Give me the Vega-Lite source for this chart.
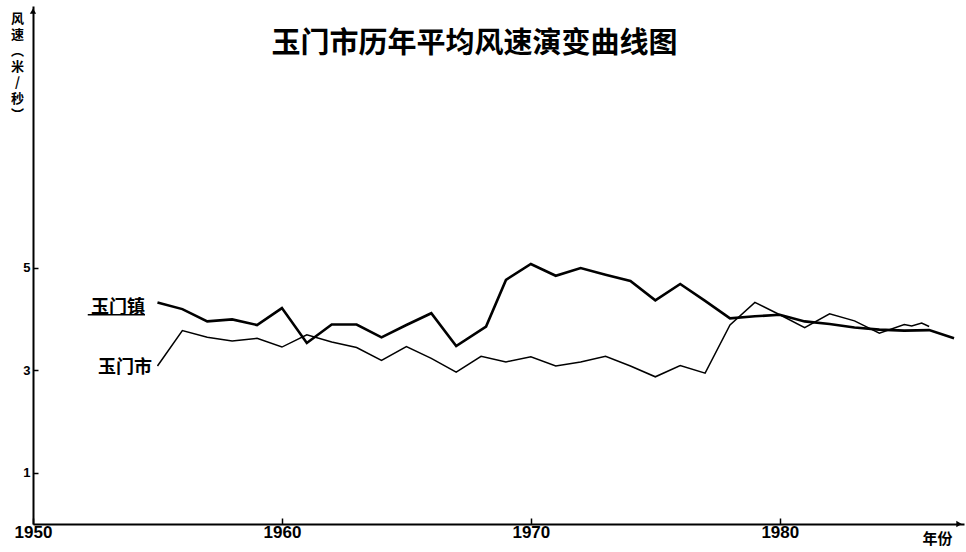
{
  "$schema": "https://vega.github.io/schema/vega-lite/v6.json",
  "autosize": "none",
  "width": 931,
  "height": 518,
  "padding": {"left": 33, "top": 6, "right": 2, "bottom": 28},
  "background": "white",
  "title": {
    "text": "玉门市历年平均风速演变曲线图",
    "font": "Noto Sans CJK SC",
    "fontSize": 29,
    "fontWeight": "bold",
    "color": "black",
    "anchor": "middle",
    "offset": -53,
    "dx": -24
  },
  "config": {
    "view": {"stroke": null},
    "font": "Liberation Sans"
  },
  "datasets": {
    "series": [
      {"station": "玉门镇", "year": 1955, "speed": 4.32},
      {"station": "玉门镇", "year": 1956, "speed": 4.19},
      {"station": "玉门镇", "year": 1957, "speed": 3.95},
      {"station": "玉门镇", "year": 1958, "speed": 3.99},
      {"station": "玉门镇", "year": 1959, "speed": 3.88},
      {"station": "玉门镇", "year": 1960, "speed": 4.21},
      {"station": "玉门镇", "year": 1961, "speed": 3.53},
      {"station": "玉门镇", "year": 1962, "speed": 3.89},
      {"station": "玉门镇", "year": 1963, "speed": 3.89},
      {"station": "玉门镇", "year": 1964, "speed": 3.64},
      {"station": "玉门镇", "year": 1965, "speed": 3.88},
      {"station": "玉门镇", "year": 1966, "speed": 4.11},
      {"station": "玉门镇", "year": 1967, "speed": 3.47},
      {"station": "玉门镇", "year": 1968.2, "speed": 3.85},
      {"station": "玉门镇", "year": 1969, "speed": 4.76},
      {"station": "玉门镇", "year": 1970, "speed": 5.07},
      {"station": "玉门镇", "year": 1971, "speed": 4.84},
      {"station": "玉门镇", "year": 1972, "speed": 4.99},
      {"station": "玉门镇", "year": 1973, "speed": 4.86},
      {"station": "玉门镇", "year": 1974, "speed": 4.74},
      {"station": "玉门镇", "year": 1975, "speed": 4.36},
      {"station": "玉门镇", "year": 1976, "speed": 4.68},
      {"station": "玉门镇", "year": 1977, "speed": 4.35},
      {"station": "玉门镇", "year": 1978, "speed": 4.01},
      {"station": "玉门镇", "year": 1979, "speed": 4.05},
      {"station": "玉门镇", "year": 1980, "speed": 4.08},
      {"station": "玉门镇", "year": 1981, "speed": 3.95},
      {"station": "玉门镇", "year": 1982, "speed": 3.9},
      {"station": "玉门镇", "year": 1983, "speed": 3.83},
      {"station": "玉门镇", "year": 1984, "speed": 3.79},
      {"station": "玉门镇", "year": 1985, "speed": 3.77},
      {"station": "玉门镇", "year": 1986, "speed": 3.78},
      {"station": "玉门镇", "year": 1987, "speed": 3.62},
      {"station": "玉门市", "year": 1955, "speed": 3.08},
      {"station": "玉门市", "year": 1956, "speed": 3.77},
      {"station": "玉门市", "year": 1957, "speed": 3.64},
      {"station": "玉门市", "year": 1958, "speed": 3.57},
      {"station": "玉门市", "year": 1959, "speed": 3.62},
      {"station": "玉门市", "year": 1960, "speed": 3.45},
      {"station": "玉门市", "year": 1961, "speed": 3.69},
      {"station": "玉门市", "year": 1962, "speed": 3.55},
      {"station": "玉门市", "year": 1963, "speed": 3.44},
      {"station": "玉门市", "year": 1964, "speed": 3.19},
      {"station": "玉门市", "year": 1965, "speed": 3.46},
      {"station": "玉门市", "year": 1966, "speed": 3.23},
      {"station": "玉门市", "year": 1967, "speed": 2.96},
      {"station": "玉门市", "year": 1968, "speed": 3.27},
      {"station": "玉门市", "year": 1969, "speed": 3.16},
      {"station": "玉门市", "year": 1970, "speed": 3.26},
      {"station": "玉门市", "year": 1971, "speed": 3.08},
      {"station": "玉门市", "year": 1972, "speed": 3.16},
      {"station": "玉门市", "year": 1973, "speed": 3.27},
      {"station": "玉门市", "year": 1974, "speed": 3.08},
      {"station": "玉门市", "year": 1975, "speed": 2.87},
      {"station": "玉门市", "year": 1976, "speed": 3.09},
      {"station": "玉门市", "year": 1977, "speed": 2.94},
      {"station": "玉门市", "year": 1978, "speed": 3.88},
      {"station": "玉门市", "year": 1979, "speed": 4.32},
      {"station": "玉门市", "year": 1980, "speed": 4.08},
      {"station": "玉门市", "year": 1981, "speed": 3.83},
      {"station": "玉门市", "year": 1982, "speed": 4.1},
      {"station": "玉门市", "year": 1983, "speed": 3.96},
      {"station": "玉门市", "year": 1984, "speed": 3.72},
      {"station": "玉门市", "year": 1985, "speed": 3.89},
      {"station": "玉门市", "year": 1985.3, "speed": 3.86},
      {"station": "玉门市", "year": 1985.7, "speed": 3.92},
      {"station": "玉门市", "year": 1986, "speed": 3.85}
    ],
    "labels": [
      {"label": "玉门镇", "year": 1954.5, "speed": 4.22},
      {"label": "玉门市", "year": 1954.78, "speed": 3.05}
    ],
    "underline": [
      {"year": 1952.2, "year2": 1954.5, "speed": 4.08}
    ],
    "yarrow": [{"year": 1950, "speed": 10.0}],
    "xarrow": [{"year": 1987.2, "speed": 0}]
  },
  "encoding": {
    "x": {
      "field": "year",
      "type": "quantitative",
      "scale": {"domain": [1950, 1987.4], "nice": false, "zero": false},
      "axis": {
        "values": [1950, 1960, 1970, 1980],
        "format": "d",
        "grid": false,
        "labelFlush": false,
        "labelOverlap": false,
        "domainColor": "black",
        "domainWidth": 2,
        "tickColor": "black",
        "tickWidth": 1.5,
        "tickSize": -6,
        "labelPadding": 6,
        "labelFont": "Liberation Sans",
        "labelFontSize": 17,
        "labelFontWeight": "bold",
        "labelColor": "black",
        "title": "年份",
        "titleFont": "Noto Sans CJK SC",
        "titleFontSize": 15,
        "titleFontWeight": "bold",
        "titleColor": "black",
        "titleAnchor": null,
        "titleAlign": "center",
        "titleBaseline": "middle",
        "titleX": 904,
        "titleY": 14
      }
    },
    "y": {
      "field": "speed",
      "type": "quantitative",
      "scale": {"domain": [0, 10.1], "nice": false, "zero": true},
      "axis": {
        "values": [1, 3, 5],
        "grid": false,
        "domainColor": "black",
        "domainWidth": 2,
        "tickColor": "black",
        "tickWidth": 1.5,
        "tickSize": -5,
        "labelPadding": 8,
        "labelFont": "Liberation Sans",
        "labelFontSize": 13,
        "labelFontWeight": "bold",
        "labelColor": "black",
        "title": ["风", "速", "︵", "米", "/", "秒", "︶"],
        "titleFont": "Noto Sans CJK SC",
        "titleFontSize": 13,
        "titleFontWeight": "bold",
        "titleColor": "black",
        "titleAngle": 0,
        "titleAnchor": null,
        "titleAlign": "center",
        "titleBaseline": "top",
        "titleLineHeight": 16,
        "titleX": -16,
        "titleY": 6
      }
    }
  },
  "layer": [
    {
      "data": {"name": "series"},
      "mark": {"type": "line", "color": "black", "strokeJoin": "miter", "strokeCap": "butt"},
      "encoding": {
        "detail": {"field": "station", "type": "nominal"},
        "strokeWidth": {
          "field": "station",
          "type": "nominal",
          "scale": {"domain": ["玉门镇", "玉门市"], "range": [2.6, 1.5]},
          "legend": null
        }
      }
    },
    {
      "data": {"name": "labels"},
      "mark": {"type": "text", "align": "right", "baseline": "middle", "font": "Noto Sans CJK SC", "fontSize": 18, "fontWeight": "bold", "color": "black"},
      "encoding": {"text": {"field": "label", "type": "nominal"}}
    },
    {
      "data": {"name": "underline"},
      "mark": {"type": "rule", "color": "black", "strokeWidth": 1.5},
      "encoding": {"x2": {"field": "year2"}}
    },
    {
      "data": {"name": "yarrow"},
      "mark": {"type": "point", "shape": "triangle-up", "filled": true, "color": "black", "size": 40, "opacity": 1}
    },
    {
      "data": {"name": "xarrow"},
      "mark": {"type": "point", "shape": "triangle-right", "filled": true, "color": "black", "size": 40, "opacity": 1}
    }
  ]
}
